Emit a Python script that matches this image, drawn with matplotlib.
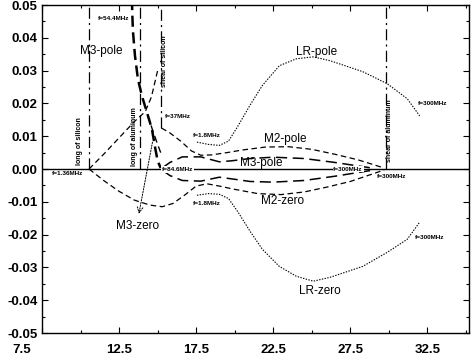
import numpy as np
import matplotlib
matplotlib.use("Agg")
import matplotlib.pyplot as plt
from matplotlib.transforms import ScaledTranslation

plt.rcParams['font.family'] = ['Liberation Sans', 'DejaVu Sans']
plt.rcParams['lines.scale_dashes'] = False

# ---- data ----
# M3-pole, thick branch coming down from f=54.4MHz
m3_top_x = [13.33, 13.36, 13.40, 13.53, 13.72, 13.98, 14.30, 14.63, 14.82, 15.00, 15.20]
m3_top_y = [0.052, 0.047, 0.042, 0.0346, 0.0275, 0.0223, 0.0174, 0.0122, 0.0070, 0.0025, 0.0003]
# second thin branch beside it
m3_side_x = [14.35, 14.70, 15.00, 15.20]
m3_side_y = [0.0165, 0.0115, 0.0075, 0.0050]
# rising branch from f=1.36MHz
rise_x = [10.55, 11.5, 12.5, 13.5, 14.2, 14.6, 15.0]
rise_y = [0.0, 0.0045, 0.0095, 0.0145, 0.0175, 0.0220, 0.0300]
# M2-pole from f=37MHz to f=300MHz
m2p_x = [15.25, 15.8, 16.5, 17.2, 17.8, 18.5, 19.5, 20.5, 22.0, 23.5, 25.0, 26.5, 28.0, 29.7]
m2p_y = [0.0125, 0.0110, 0.0085, 0.0055, 0.0042, 0.0043, 0.0050, 0.0058, 0.0067, 0.0068, 0.0060, 0.0045, 0.0028, 0.0003]
# M3-pole from f=84.6MHz to f=300MHz
m3p_x = [15.35, 15.8, 16.6, 17.8, 19.0, 19.8, 21.0, 22.5, 24.5, 26.5, 28.9]
m3p_y = [0.0005, 0.0020, 0.0037, 0.0037, 0.0022, 0.0025, 0.0032, 0.0036, 0.0032, 0.0020, 0.0003]
# lower long-dash branch
m3z_x = [15.35, 15.8, 16.6, 17.8, 19.0, 19.8, 21.0, 22.5, 24.5, 26.5, 28.9]
m3z_y = [-0.0005, -0.0020, -0.0035, -0.0037, -0.0025, -0.0030, -0.0038, -0.0040, -0.0035, -0.0022, -0.0004]
# M2-zero from f=1.36MHz to f=300MHz
m2z_x = [10.55, 11.5, 12.5, 13.5, 14.5, 15.3, 16.0, 16.8, 17.5, 18.2, 19.0, 20.0, 21.5, 23.0, 24.5, 26.0, 27.5, 29.7]
m2z_y = [0.0, -0.0035, -0.0068, -0.0095, -0.0110, -0.0115, -0.0105, -0.0078, -0.0052, -0.0045, -0.0052, -0.0062, -0.0075, -0.0078, -0.0070, -0.0055, -0.0038, -0.0003]
# LR-pole / LR-zero, f=1.8MHz to f=300MHz
lrp_x = [17.55, 18.3, 19.0, 19.6, 20.2, 21.0, 21.8, 22.9, 24.0, 25.1, 26.2, 28.3, 29.9, 31.2, 32.0]
lrp_y = [0.0082, 0.0075, 0.0072, 0.0085, 0.0130, 0.0195, 0.0255, 0.0315, 0.0336, 0.0342, 0.0330, 0.0297, 0.0260, 0.0214, 0.0162]
lrz_x = [17.55, 18.3, 19.0, 19.6, 20.2, 21.0, 21.8, 22.9, 24.0, 25.1, 26.2, 28.3, 29.9, 31.2, 32.0]
lrz_y = [-0.0080, -0.0075, -0.0077, -0.0090, -0.0130, -0.0190, -0.0245, -0.0297, -0.0327, -0.0342, -0.0330, -0.0297, -0.0254, -0.0214, -0.0162]
# vertical resonance lines: x, ymin, ymax, label
res_x = [10.55, 13.85, 15.2, 29.8]
res_ymin = [0.0, 0.0, 0.0125, 0.0]
res_ymax = [0.05, 0.05, 0.05, 0.05]
res_lab = ['long of silicon', 'long of aluminum', 'shear of silicon', 'shear of aluminum']
res_lab_x = [9.95, 13.5, 15.42, 30.05]
res_lab_y = [0.0012, 0.001, 0.025, 0.002]

xticks = [7.5, 12.5, 17.5, 22.5, 27.5, 32.5]
yticks = [-0.05, -0.04, -0.03, -0.02, -0.01, 0.0, 0.01, 0.02, 0.03, 0.04, 0.05]

fig = plt.figure(figsize=(4.73, 3.63), dpi=100)
ax = fig.add_axes([0.0888, 0.0826, 0.9027, 0.9036])

sdash = (0, (4, 2.5))
ldash = (0, (8, 4))
ddot = (0, (8, 3, 1.5, 3))

ax.axhline(0, color='black', lw=1.0, zorder=1)
for x, y0, y1 in zip(res_x, res_ymin, res_ymax):
    ax.plot([x, x], [y0, y1], color='black', lw=0.9, linestyle=ddot)
for lab, x, y in zip(res_lab, res_lab_x, res_lab_y):
    ax.text(x, y, lab, rotation=90, fontsize=5, fontweight='bold', ha='center', va='bottom')

ax.plot(m3_top_x, m3_top_y, color='black', lw=1.8, linestyle=ldash)
ax.plot(m3_side_x, m3_side_y, color='black', lw=1.0, linestyle=(0, (5, 3)))
ax.plot(rise_x, rise_y, color='black', lw=0.9, linestyle=sdash)
ax.plot(m2p_x, m2p_y, color='black', lw=0.9, linestyle=sdash)
ax.plot(m3p_x, m3p_y, color='black', lw=1.1, linestyle=ldash)
ax.plot(m3z_x, m3z_y, color='black', lw=1.1, linestyle=ldash)
ax.plot(m2z_x, m2z_y, color='black', lw=0.9, linestyle=sdash)
ax.plot(lrp_x, lrp_y, color='black', lw=0.8, linestyle=(0, (1, 1)))
ax.plot(lrz_x, lrz_y, color='black', lw=0.8, linestyle=(0, (1, 1)))

ax.annotate('', xy=(13.75, -0.0145), xytext=(14.7, 0.009),
            arrowprops=dict(arrowstyle='->', lw=0.7, linestyle=(0, (1, 1)), color='black'))

big = dict(fontsize=8.5, ha='center', va='center')
ax.text(11.32, 0.0361, 'M3-pole', **big)
ax.text(23.3, 0.0090, 'M2-pole', **big)
ax.text(21.75, 0.0018, 'M3-pole', **big)
ax.text(23.1, -0.0098, 'M2-zero', **big)
ax.text(13.7, -0.0174, 'M3-zero', **big)
ax.text(25.3, 0.0358, 'LR-pole', **big)
ax.text(25.5, -0.0373, 'LR-zero', **big)

small = dict(fontsize=4.6, fontweight='bold', ha='left', va='center')
wb = dict(facecolor='white', edgecolor='none', pad=0.6)
ax.text(8.15, -0.0013, 'f=1.36MHz', **small)
ax.text(11.1, 0.0460, 'f=54.4MHz', **small)
ax.text(15.45, 0.0160, 'f=37MHz', **small)
ax.text(15.3, -0.0002, 'f=84.6MHz', bbox=wb, **small)
ax.text(17.3, 0.0101, 'f=1.8MHz', **small)
ax.text(17.3, -0.0104, 'f=1.8MHz', **small)
ax.text(26.4, 0.0000, 'f=300MHz', bbox=wb, **small)
ax.text(29.2, -0.0023, 'f=300MHz', **small)
ax.text(31.9, 0.0199, 'f=300MHz', **small)
ax.text(31.7, -0.0208, 'f=300MHz', **small)

ax.set_xlim(7.5, 35.2)
ax.set_ylim(-0.05, 0.05)
ax.set_xticks(xticks)
ax.set_xticklabels([f'{v:.1f}' for v in xticks])
ax.set_xticks(np.arange(10, 35.1, 5.0), minor=True)
ax.set_yticks(yticks)
ax.set_yticklabels([f'{v:.2f}' for v in yticks])
ax.set_yticks(np.arange(-0.045, 0.05, 0.01), minor=True)
ax.tick_params(which='both', direction='in', top=True, right=True, width=0.8)
ax.tick_params(which='major', length=4, labelsize=9.5)
ax.tick_params(axis='x', which='major', pad=8)
ax.tick_params(axis='y', which='major', pad=3)
ax.tick_params(which='minor', length=2.5)
for lab in ax.get_xticklabels() + ax.get_yticklabels():
    lab.set_fontweight('bold')
first = ax.get_xticklabels()[0]
first.set_transform(first.get_transform() + ScaledTranslation(-20 / 100, 0, fig.dpi_scale_trans))
for s in ax.spines.values():
    s.set_linewidth(1.0)

fig.savefig('out.png', dpi=100)
